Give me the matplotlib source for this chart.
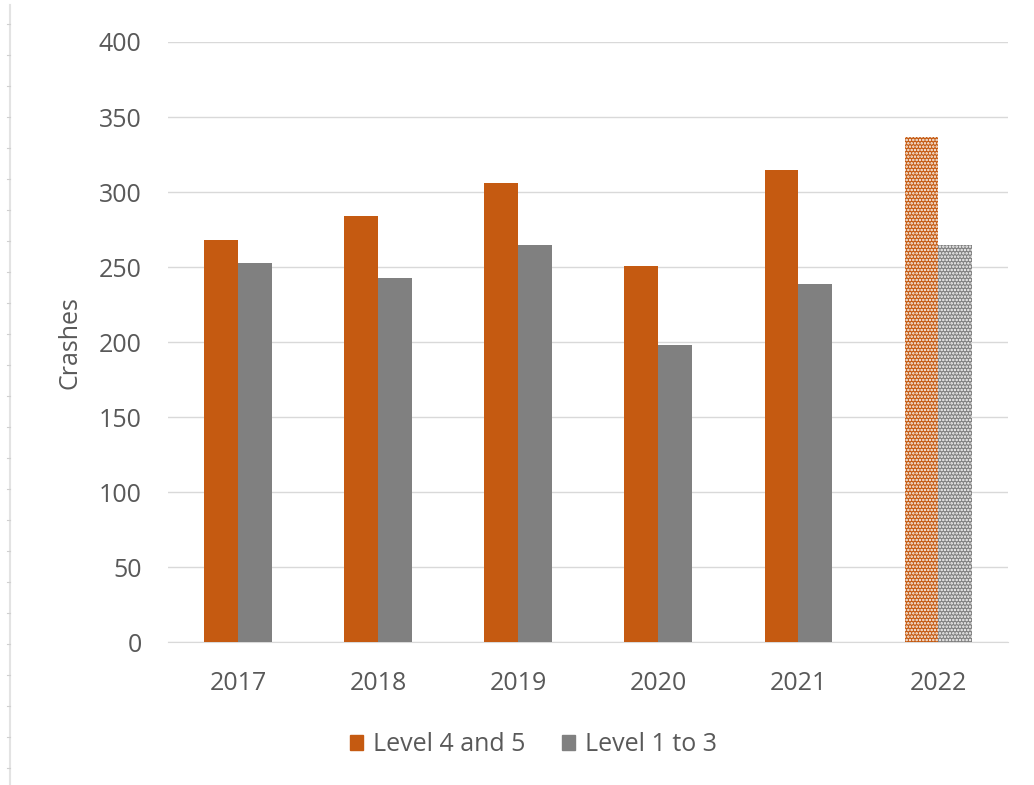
import numpy as np
import matplotlib.pyplot as plt
from matplotlib.lines import Line2D
from matplotlib.patches import Patch

years = ['2017', '2018', '2019', '2020', '2021', '2022']
level_4_5 = [268, 284, 306, 251, 315, 337]
level_1_3 = [253, 243, 265, 198, 239, 265]

orange = '#c55a11'
grey = '#808080'
txt = '#595959'

plt.rcParams['font.family'] = ['Open Sans', 'DejaVu Sans']
plt.rcParams['hatch.linewidth'] = 1.2

fig = plt.figure(figsize=(10.34, 7.85), dpi=100)
ax = fig.add_axes([0.1625, 0.182, 0.8125, 0.7645])

x = np.arange(len(years))
w = 0.24
for i in range(len(years)):
    if years[i] == '2022':
        ax.bar(x[i] - w / 2, level_4_5[i], w, color=orange, edgecolor='white',
               hatch='.....', linewidth=0, zorder=3)
        ax.bar(x[i] + w / 2, level_1_3[i], w, color=grey, edgecolor='white',
               hatch='.....', linewidth=0, zorder=3)
    else:
        ax.bar(x[i] - w / 2, level_4_5[i], w, color=orange, zorder=3)
        ax.bar(x[i] + w / 2, level_1_3[i], w, color=grey, zorder=3)

ax.set_xlim(-0.5, len(years) - 0.5)
ax.set_ylim(0, 400)
ax.set_yticks(range(0, 401, 50))
ax.set_xticks(x)
ax.set_xticklabels(years)
ax.grid(axis='y', color='#d9d9d9', linewidth=1, zorder=0)
for s in ['top', 'right', 'left']:
    ax.spines[s].set_visible(False)
ax.spines['bottom'].set_color('#d9d9d9')
ax.tick_params(length=0, labelsize=18, labelcolor=txt)
ax.tick_params(axis='x', pad=21)
ax.tick_params(axis='y', pad=19)
ax.set_ylabel('Crashes', fontsize=18, color=txt, labelpad=12)

handles = [Patch(color=orange, label='Level 4 and 5'),
           Patch(color=grey, label='Level 1 to 3')]
fig.legend(handles=handles, loc='center', bbox_to_anchor=(0.516, 0.051), ncol=2,
           frameon=False, fontsize=18, labelcolor=txt, handlelength=0.5,
           handleheight=0.5, handletextpad=0.4, columnspacing=1.5)

# faint ruler line at the left edge of the screenshot
fig.add_artist(Line2D([10 / 1034, 10 / 1034], [0, 1 - 5 / 785],
                      color='#e3e3e3', linewidth=1.5))
for yp in np.arange(24, 785, 31):
    fig.add_artist(Line2D([7 / 1034, 10 / 1034], [1 - yp / 785, 1 - yp / 785],
                          color='#d0d0d0', linewidth=0.8))

fig.savefig('out.png', dpi=100)
